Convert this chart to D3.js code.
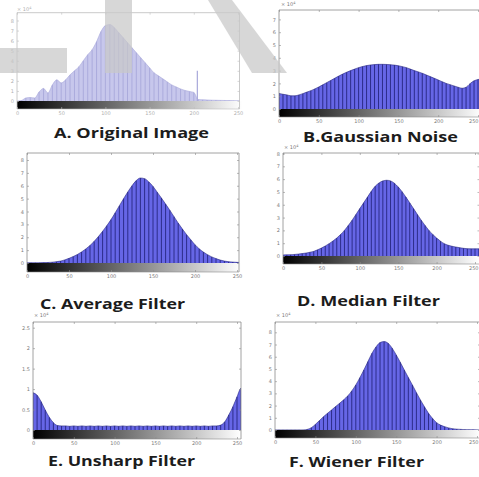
<!DOCTYPE html>
<html><head><meta charset="utf-8">
<script src="https://cdn.jsdelivr.net/npm/d3@7"></script>
<style>body{margin:0;background:#fff}svg{display:block}</style>
</head><body>
<script>
// gray levels (bin starts, step 5)
const levels = d3.range(0, 256, 5);
// counts in units of 10^4
const countsA = [0.0,0.05,0.3,0.35,0.3,0.9,1.25,0.8,1.6,2.1, 1.8,2.1,2.6,3.0,3.4,4.0,4.6,5.1,5.9,6.9, 7.5,7.6,7.3,6.8,6.3,5.8,5.3,4.8,4.3,3.8, 3.3,2.8,2.5,2.2,1.9,1.6,1.4,1.2,1.05,0.95, 0.85,0.15,0.12,0.1,0.08,0.07,0.06,0.05,0.04,0.03, 0.02,0.02];
const spikeA = [{level: 204, count: 3.0}];
const countsB = [1.22,1.15,1.1,1.03,1.03,1.1,1.2,1.32,1.43,1.57, 1.72,1.89,2.06,2.23,2.4,2.57,2.73,2.87,3.0,3.12, 3.23,3.32,3.39,3.44,3.47,3.49,3.49,3.48,3.46,3.43, 3.38,3.31,3.23,3.12,3.0,2.9,2.79,2.66,2.53,2.4, 2.27,2.13,2.0,1.9,1.8,1.7,1.62,1.7,1.98,2.2, 2.3,2.35];
const countsC = [0.02,0.02,0.02,0.02,0.03,0.04,0.06,0.1,0.15,0.24, 0.36,0.5,0.66,0.86,1.09,1.36,1.68,2.05,2.46,2.9, 3.37,3.9,4.45,5.0,5.52,6.0,6.4,6.6,6.55,6.3, 5.95,5.5,5.05,4.58,4.1,3.6,3.1,2.64,2.2,1.8, 1.42,1.1,0.85,0.64,0.47,0.34,0.23,0.15,0.1,0.07, 0.05,0.04];
const countsD = [0.08,0.09,0.1,0.12,0.15,0.19,0.23,0.29,0.36,0.48, 0.62,0.78,0.96,1.17,1.4,1.68,2.0,2.38,2.79,3.24, 3.7,4.15,4.6,5.05,5.44,5.7,5.86,5.91,5.86,5.68, 5.39,5.02,4.6,4.15,3.7,3.24,2.79,2.38,2.0,1.68, 1.4,1.16,0.96,0.84,0.76,0.7,0.65,0.6,0.57,0.56, 0.56,0.56];
const countsE = [0.91,0.85,0.69,0.49,0.31,0.18,0.11,0.1, 0.1,0.09,0.1,0.09,0.1,0.09,0.1,0.09,0.1,0.09, 0.1,0.09,0.1,0.09,0.1,0.09,0.1,0.09,0.1,0.09, 0.1,0.09,0.1,0.09,0.1,0.09,0.1,0.09,0.1,0.09, 0.1,0.09,0.1,0.09,0.1,0.09,0.1,0.1, 0.12,0.2,0.37,0.57,0.81,1.02];
const countsF = [0.01,0.01,0.01,0.01,0.01,0.01,0.01,0.01,0.05,0.19, 0.46,0.77,1.09,1.37,1.64,1.92,2.19,2.47,2.79,3.2, 3.69,4.28,4.92,5.6,6.28,6.8,7.16,7.24,7.1,6.7, 6.15,5.55,4.92,4.3,3.69,3.06,2.46,1.9,1.37,0.95, 0.6,0.4,0.27,0.17,0.1,0.07,0.05,0.03,0.02,0.02, 0.01,0.01];
const xTicks = [0, 50, 100, 150, 200, 250];
const yTicks8 = [0,1,2,3,4,5,6,7,8];
const yTicks7 = [0,1,2,3,4,5,6,7];
const yTicksE = [0,0.5,1,1.5,2,2.5];
const captions = ["A. Original Image","B.Gaussian Noise","C. Average Filter","D. Median Filter","E. Unsharp Filter","F. Wiener Filter"];
const exponentBase = "× 10", exponentPow = "4";

const W = 479, H = 477;
const svg = d3.select("body").append("svg").attr("width", W).attr("height", H);
const defs = svg.append("defs");
const g = defs.append("linearGradient").attr("id","gray").attr("x1","0").attr("x2","1").attr("y1","0").attr("y2","0");
g.append("stop").attr("offset","0").attr("stop-color","#000");
g.append("stop").attr("offset","1").attr("stop-color","#fff");

const blue = {fill:"#6666e6", line:"#26267f", axis:"#8c8c8c", text:"#7a7a7a"};
const faded = {fill:"#c7c7ec", line:"#a8a8da", axis:"#bdbdbd", text:"#b0b0b0"};

const panels = [
 {counts:countsA, spike:spikeA, yt:yTicks8, tTop:8, x0:17, x250:238, right:239.5, top:12.7, y0:101, tTopPx:20.5, cbB:109, labY:115, col:faded, exp:[17,11],
  cap:{x:54, y:138, w:155, t:captions[0]}},
 {counts:countsB, yt:yTicks7, tTop:7, x0:279, x250:478, right:483, top:10, y0:109, tTopPx:19.4, cbB:117, labY:124, col:blue, exp:[281,6],
  cap:{x:303, y:142, w:155, t:captions[1]}},
 {counts:countsC, yt:yTicks8, tTop:8, x0:27, x250:237, right:239, top:153, y0:263, tTopPx:160, cbB:272, labY:279, col:blue, exp:null,
  cap:{x:40, y:309, w:145, t:captions[2]}},
 {counts:countsD, yt:yTicks8, tTop:8, x0:283, x250:475, right:479.5, top:153, y0:256, tTopPx:153.5, cbB:264, labY:270, col:blue, exp:[284,149],
  cap:{x:297, y:306, w:143, t:captions[3]}},
 {counts:countsE, yt:yTicksE, tTop:2.5, x0:33, x250:237, right:241, top:322, y0:430, tTopPx:327.7, cbB:439, labY:446, col:blue, exp:[34,317],
  cap:{x:48, y:466, w:147, t:captions[4]}},
 {counts:countsF, yt:yTicks8, tTop:8, x0:275, x250:477, right:480, top:322, y0:430, tTopPx:332.3, cbB:438, labY:446, col:blue, exp:[276,317],
  cap:{x:289, y:467, w:135, t:captions[5]}}
];

panels.forEach((p, i) => {
  const x = d3.scaleLinear().domain([0, 250]).range([p.x0, p.x250]);
  const y = d3.scaleLinear().domain([0, p.tTop]).range([p.y0, p.tTopPx]);
  const G = svg.append("g");
  const cid = "clip" + i;
  defs.append("clipPath").attr("id", cid).append("rect")
    .attr("x", p.x0).attr("y", p.top).attr("width", p.right - p.x0).attr("height", p.y0 - p.top);
  const plot = G.append("g").attr("clip-path", `url(#${cid})`);
  const data = levels.map((l, k) => ({level: l, count: p.counts[k]}));
  const ext = data.concat([{level: 262, count: data[data.length - 1].count}]);
  const area = d3.area().curve(d3.curveMonotoneX)
    .x(d => x(d.level)).y0(p.y0).y1(d => y(d.count));
  plot.append("path").datum(ext).attr("d", area).attr("fill", p.col.fill);
  plot.selectAll("line.stem").data(data).join("line").attr("class","stem")
    .attr("x1", d => x(d.level)).attr("x2", d => x(d.level))
    .attr("y1", d => y(d.count)).attr("y2", p.y0)
    .attr("stroke", p.col.line).attr("stroke-width", 0.9);
  plot.append("path").datum(ext).attr("fill","none").attr("stroke", p.col.line).attr("stroke-width", 0.6)
    .attr("d", d3.line().curve(d3.curveMonotoneX).x(d => x(d.level)).y(d => y(d.count)));
  if (p.spike) {
    plot.selectAll("line.spike").data(p.spike).join("line").attr("class","spike")
      .attr("x1", d => x(d.level)).attr("x2", d => x(d.level))
      .attr("y1", d => y(d.count)).attr("y2", p.y0)
      .attr("stroke", p.col.line).attr("stroke-width", 1.2);
  }
  // colorbar
  G.append("rect").attr("x", x(0)).attr("y", p.y0).attr("width", x(255) - x(0)).attr("height", p.cbB - p.y0)
    .attr("fill", "url(#gray)");
  // box
  G.append("path").attr("fill","none").attr("stroke", p.col.axis).attr("stroke-width", 0.8)
    .attr("d", `M${p.x0},${p.cbB}V${p.top}H${p.right}V${p.cbB}`);
  G.append("line").attr("x1", p.x0).attr("x2", p.right).attr("y1", p.cbB).attr("y2", p.cbB)
    .attr("stroke", p.col.axis).attr("stroke-width", 0.6);
  // axes
  const ax = G.append("g").attr("transform", `translate(${p.x0},0)`)
    .call(d3.axisLeft(y).tickValues(p.yt).tickSizeInner(-2).tickSizeOuter(0).tickPadding(3).tickFormat(d3.format("~g")));
  const axR = G.append("g").attr("transform", `translate(${p.right},0)`)
    .call(d3.axisRight(y).tickValues(p.yt).tickSizeInner(-2).tickSizeOuter(0).tickFormat(""));
  const axT = G.append("g").attr("transform", `translate(0,${p.top})`)
    .call(d3.axisTop(x).tickValues(xTicks).tickSizeInner(-2).tickSizeOuter(0).tickFormat(""));
  const axB = G.append("g").attr("transform", `translate(0,${p.cbB})`)
    .call(d3.axisBottom(x).tickValues(xTicks).tickSizeInner(-2).tickSizeOuter(0).tickPadding(2));
  [ax, axR, axT, axB].forEach(a => {
    a.select(".domain").remove();
    a.selectAll("line").attr("stroke", p.col.axis).attr("stroke-width", 0.6);
    a.selectAll("text").attr("fill", p.col.text).attr("font-size", 5).attr("font-family", "DejaVu Sans");
  });
  // keep edge labels inside the page
  axB.selectAll(".tick").each(function(d) {
    if (x(d) + 5 > W) d3.select(this).select("text").attr("text-anchor", "end").attr("x", W - 1 - x(d));
  });
  if (p.exp) {
    const t = G.append("text").attr("x", p.exp[0]).attr("y", p.exp[1]).attr("font-size", 5)
      .attr("font-family","DejaVu Sans").attr("fill", p.col.text);
    t.append("tspan").text(exponentBase);
    t.append("tspan").attr("dy", -2).attr("font-size", 3.5).text(exponentPow);
  }
  // caption
  svg.append("text").attr("x", p.cap.x).attr("y", p.cap.y).attr("textLength", p.cap.w)
    .attr("lengthAdjust", "spacingAndGlyphs").attr("font-family", "Open Sans").attr("font-weight", "bold")
    .attr("font-size", 15).attr("fill", "#1c1c1c").text(p.cap.t);
});

// faint gray watermark shapes over the top row
const wm = svg.append("g").attr("fill", "#c9c9c9").attr("opacity", 0.72);
wm.append("rect").attr("x", 0).attr("y", 48).attr("width", 67).attr("height", 25);
wm.append("rect").attr("x", 105).attr("y", 0).attr("width", 27).attr("height", 73);
wm.append("polygon").attr("points", "208,0 232,0 287,73 252,73");
</script>
</body></html>
